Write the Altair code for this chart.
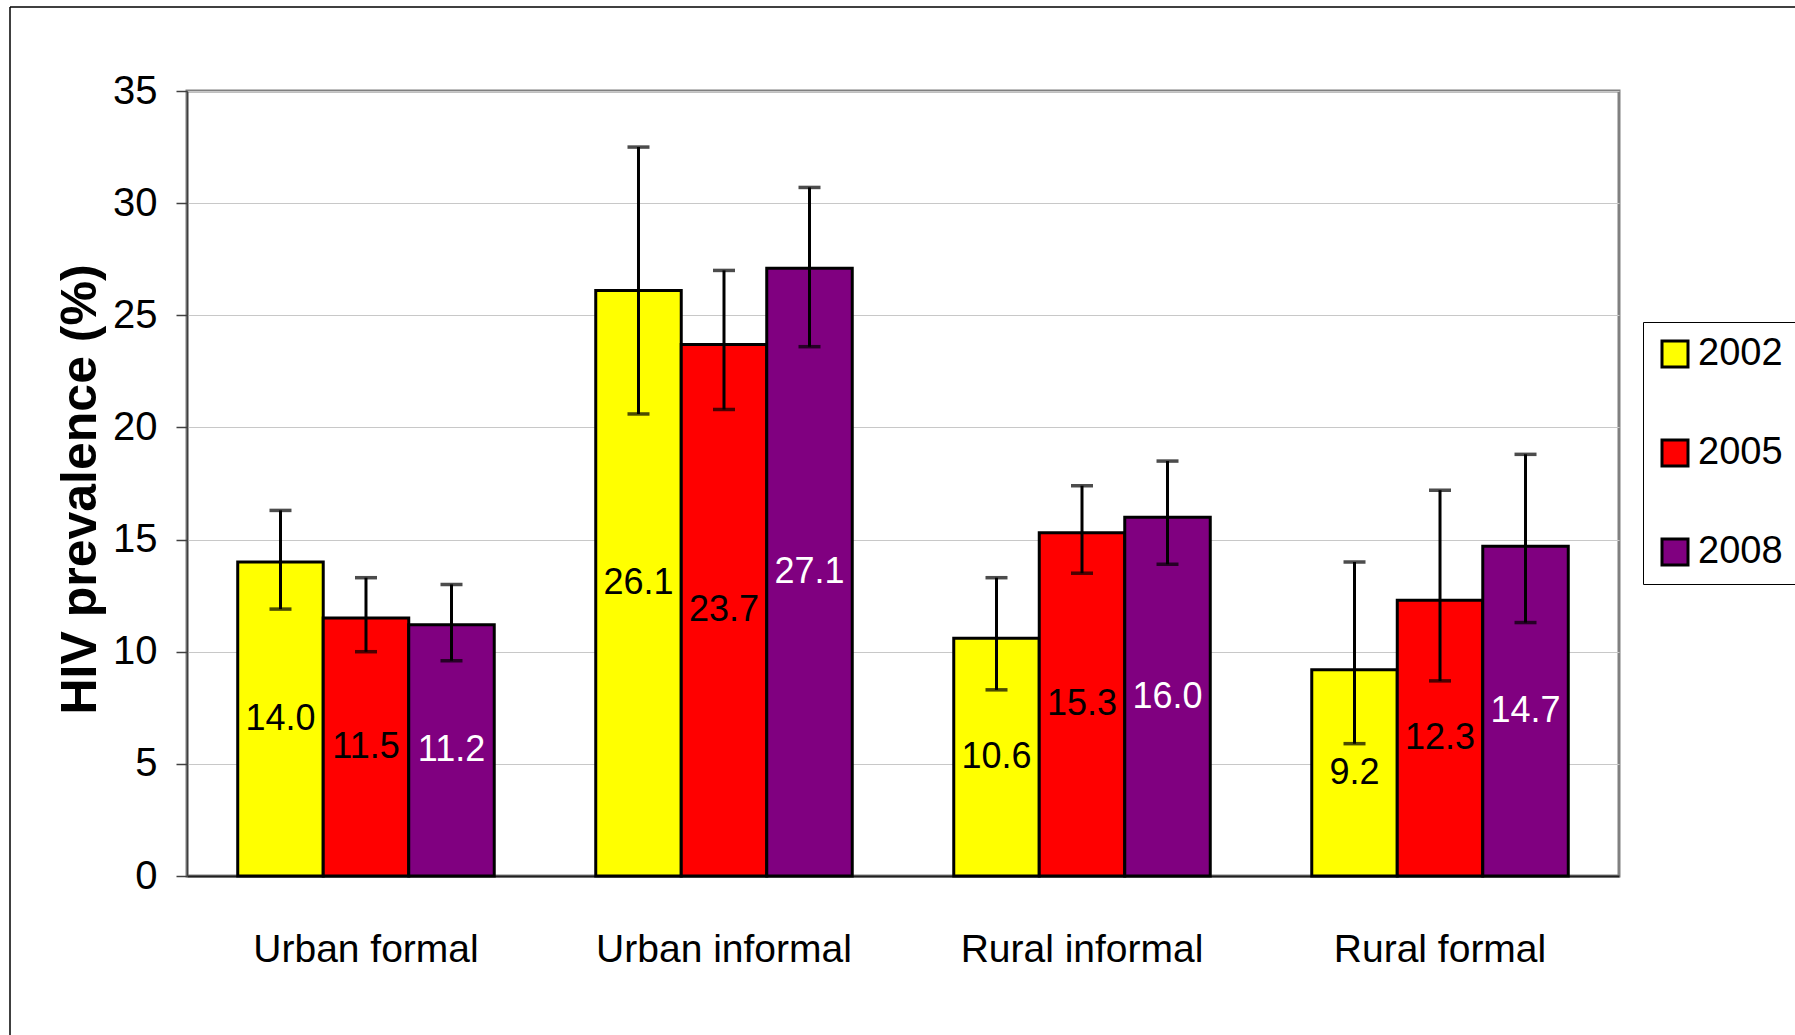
import altair as alt
import pandas as pd

categories = ["Urban formal", "Urban informal", "Rural informal", "Rural formal"]
years = ["2002", "2005", "2008"]
colors = ["#FFFF00", "#FF0000", "#800080"]

prev_2002 = [14.0, 26.1, 10.6, 9.2]
prev_2005 = [11.5, 23.7, 15.3, 12.3]
prev_2008 = [11.2, 27.1, 16.0, 14.7]

lo_2002 = [11.9, 20.6, 8.3, 5.9]
hi_2002 = [16.3, 32.5, 13.3, 14.0]
lo_2005 = [10.0, 20.8, 13.5, 8.7]
hi_2005 = [13.3, 27.0, 17.4, 17.2]
lo_2008 = [9.6, 23.6, 13.9, 11.3]
hi_2008 = [13.0, 30.7, 18.5, 18.8]

y_ticks = [0, 5, 10, 15, 20, 25, 30, 35]

rows = []
for yr, vals, los, his in [
    ("2002", prev_2002, lo_2002, hi_2002),
    ("2005", prev_2005, lo_2005, hi_2005),
    ("2008", prev_2008, lo_2008, hi_2008),
]:
    for c, v, lo, hi in zip(categories, vals, los, his):
        rows.append({"category": c, "year": yr, "value": v, "lo": lo, "hi": hi})
df = pd.DataFrame(rows)

FONT = "Liberation Sans, Arial, sans-serif"

x_enc = alt.X(
    "category:N",
    sort=categories,
    title="",
    scale=alt.Scale(paddingInner=0.2835, paddingOuter=0.1417),
    axis=alt.Axis(
        labelAngle=0,
        ticks=False,
        domainColor="#202020",
        domainWidth=2,
        labelFont=FONT,
        labelFontSize=39,
        labelColor="black",
        labelPadding=54,
        labelLimit=0,
        grid=False,
    ),
)
xo_enc = alt.XOffset("year:N", sort=years, scale=alt.Scale(paddingInner=0, paddingOuter=0))
y_scale = alt.Scale(domain=[0, 35], nice=False)

base = alt.Chart(df)

bars = base.mark_bar(stroke="black", strokeWidth=3).encode(
    x=x_enc,
    xOffset=xo_enc,
    y=alt.Y(
        "value:Q",
        scale=y_scale,
        axis=alt.Axis(
            values=y_ticks,
            tickSize=11,
            tickColor="#404040",
            tickWidth=1.5,
            domainColor="#404040",
            domainWidth=1.5,
            labelFont=FONT,
            labelFontSize=40,
            labelColor="black",
            labelPadding=19,
            labelLimit=0,
            gridColor="#c8c8c8",
            gridWidth=1,
            title="HIV prevalence (%)",
            titleFont=FONT,
            titleFontWeight="bold",
            titleFontSize=50,
            titleColor="black",
            titleAngle=-90,
            titleX=-107,
            titleY=398,
            titleAlign="center",
            titleBaseline="middle",
        ),
    ),
    color=alt.Color(
        "year:N",
        sort=years,
        scale=alt.Scale(domain=years, range=colors),
        legend=alt.Legend(
            title=None,
            orient="none",
            legendX=1456,
            legendY=231,
            padding=13,
            strokeColor="black",
            fillColor="white",
            symbolType="square",
            symbolSize=676,
            symbolStrokeColor="black",
            symbolStrokeWidth=3,
            labelFont=FONT,
            labelFontSize=38,
            labelColor="black",
            labelOffset=4,
            labelLimit=0,
            rowPadding=61,
        ),
    ),
)

rules = base.mark_rule(color="black", strokeWidth=3).encode(
    x=x_enc, xOffset=xo_enc, y=alt.Y("lo:Q", scale=y_scale), y2="hi:Q"
)
cap_lo = base.mark_tick(color="black", size=22, thickness=3.5).encode(
    x=x_enc, xOffset=xo_enc, y=alt.Y("lo:Q", scale=y_scale)
)
cap_hi = base.mark_tick(color="black", size=22, thickness=3.5).encode(
    x=x_enc, xOffset=xo_enc, y=alt.Y("hi:Q", scale=y_scale)
)

labels = base.transform_calculate(mid="datum.value / 2").mark_text(
    font=FONT, fontSize=36, baseline="middle", align="center"
).encode(
    x=x_enc,
    xOffset=xo_enc,
    y=alt.Y("mid:Q", scale=y_scale),
    text=alt.Text("value:Q", format=".1f"),
    color=alt.condition(alt.datum.year == "2008", alt.value("white"), alt.value("black")),
)

frame_df = pd.DataFrame({"k": [0]})
frame_left = alt.Chart(frame_df).mark_rule(color="black", strokeWidth=1.5).encode(
    x=alt.value(-177), y=alt.value(-84), y2=alt.value(960)
)
frame_top = alt.Chart(frame_df).mark_rule(color="black", strokeWidth=1.5).encode(
    x=alt.value(-177), x2=alt.value(1620), y=alt.value(-84)
)

chart = (
    alt.layer(bars, rules, cap_lo, cap_hi, labels, frame_left, frame_top)
    .properties(
        width=1432,
        height=785,
        autosize=alt.AutoSizeParams(type="none"),
        padding={"left": 187, "top": 91, "right": 176, "bottom": 159},
        background="white",
    )
    .configure_view(stroke="#808080", strokeWidth=3)
)

chart.save("out.html", embed_options={"renderer": "svg", "actions": False})
